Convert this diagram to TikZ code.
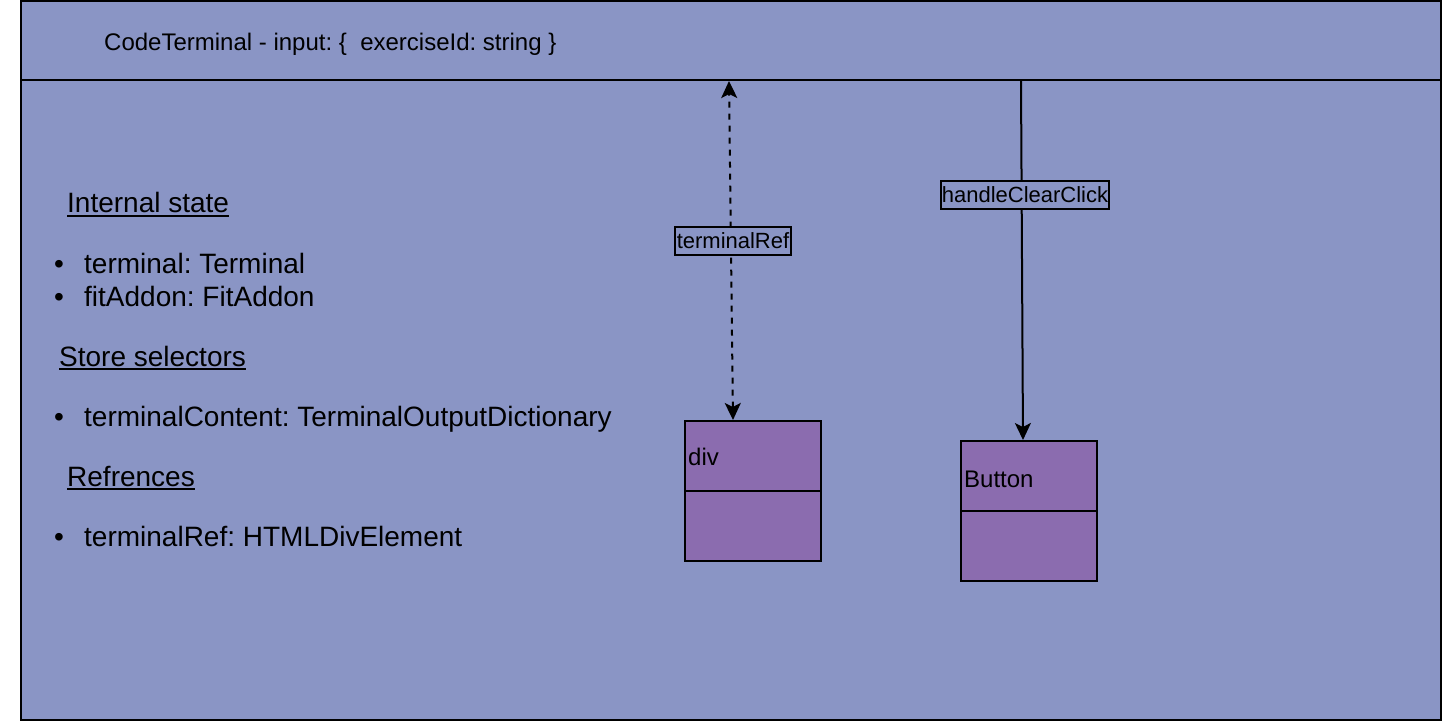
\documentclass[tikz,border=0pt]{standalone}
\usepackage{fontspec}
\setmainfont{Liberation Sans}
\usetikzlibrary{arrows.meta}
\definecolor{bgblue}{RGB}{138,149,197}
\definecolor{boxpurple}{RGB}{139,108,175}
\begin{document}
\begin{tikzpicture}[x=1pt,y=-1pt,
  myarr/.tip={Stealth[length=17pt,width=16pt,inset=4pt]},
  frame/.style={draw=black,line width=2pt,fill=bgblue,rectangle,inner sep=0pt},
  umlbox/.style={draw=black,line width=2pt,fill=boxpurple,minimum width=136pt,minimum height=140pt,inner sep=0pt},
  lbl/.style={draw=black,line width=2pt,fill=bgblue,inner sep=0pt,minimum height=28pt,font=\fontsize{22}{26}\selectfont\frenchspacing},
  txt/.style={anchor=base west,inner sep=0pt,font=\fontsize{28}{32}\selectfont\frenchspacing},
  hd/.style={anchor=base west,inner sep=0pt,font=\fontsize{24}{28}\selectfont\frenchspacing},
  ul/.style={line width=1.5pt},
  conn/.style={line width=2pt,-myarr},
  ]
\fill[white] (0,0) rectangle (1444,722);
\useasboundingbox (0,0) rectangle (1444,722);

% container
\node[frame, minimum width=1420pt, minimum height=640pt] (body) at (731,400) {};
\node[frame, minimum width=1420pt, minimum height=79pt] (hdr) at (731,40.5) {};
\node[hd] (title) at (104,50.5) {CodeTerminal - input: \{~~exerciseId: string \}};

% left text
\node[txt] (s1) at (67,213) {Internal state};
\node[txt] (b1) at (54,274) {•};
\node[txt] (i1) at (84,274) {terminal: Terminal};
\node[txt] (b2) at (54,306) {•};
\node[txt] (i2) at (84,306) {fitAddon: FitAddon};
\node[txt] (s2) at (59,366) {Store selectors};
\node[txt] (b3) at (54,426) {•};
\node[txt] (i3) at (84,426) {terminalContent: TerminalOutputDictionary};
\node[txt] (s3) at (67,486) {Refrences};
\node[txt] (b4) at (54,546) {•};
\node[txt] (i4) at (84,546) {terminalRef: HTMLDivElement};
\foreach \n in {s1,s2,s3}
  \draw[ul] ([yshift=-3pt]\n.base west) -- ([yshift=-3pt]\n.base east);

% boxes
\node[umlbox] (div) at (753,491) {};
\draw[line width=2pt] (div.west) -- (div.east);
\node[hd] (divt) at (688,465) {div};
\node[umlbox] (btn) at (1029,511) {};
\draw[line width=2pt] (btn.west) -- (btn.east);
\node[hd] (btnt) at (964,487) {Button};

% connectors
\coordinate (refEnd) at (729,81);
\coordinate (clickStart) at (1021,81);
\draw[conn, myarr-myarr, dash pattern=on 6pt off 6pt] ([xshift=-20pt]div.north) -- (refEnd);
\draw[conn] (clickStart) -- ([xshift=-6pt]btn.north);
\node[lbl, minimum width=116pt] (lref) at (733,241) {terminalRef};
\node[lbl, minimum width=168pt] (lclick) at (1025,195) {handleClearClick};
\end{tikzpicture}
\end{document}
